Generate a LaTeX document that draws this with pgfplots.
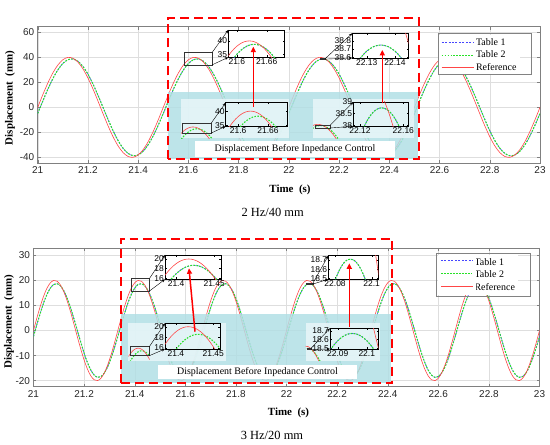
\documentclass[border=0pt]{standalone}
\usepackage{fontspec}
\setmainfont{Liberation Serif}
\setsansfont{Liberation Sans}
\usepackage{pgfplots}
\usepackage{pgfplotstable}
\pgfplotsset{compat=1.18}
\usetikzlibrary{arrows.meta}

\definecolor{refred}{RGB}{255,70,70}
\definecolor{tabgreen}{RGB}{40,225,40}
\definecolor{tabblue}{RGB}{70,70,255}
\definecolor{cyanbg}{RGB}{178,223,229}
\definecolor{panelbg}{RGB}{232,246,249}
\definecolor{legedge}{RGB}{130,130,130}

\pgfplotstableread{
t ref tab
21.00 0 -4.857
21.02 9.948 4.857
21.04 19.270 14.265
21.06 27.382 22.777
21.08 33.773 29.857
21.10 38.042 35.062
21.12 39.921 38.064
21.14 39.292 38.674
21.16 36.193 36.854
21.18 30.820 32.718
21.20 23.511 26.526
21.22 14.725 18.668
21.24 5.013 9.637
21.26 -5.013 0
21.28 -14.725 -9.637
21.30 -23.511 -18.668
21.32 -30.820 -26.526
21.34 -36.193 -32.718
21.36 -39.292 -36.854
21.38 -39.921 -38.674
21.40 -38.042 -38.064
21.42 -33.773 -35.062
21.44 -27.382 -29.857
21.46 -19.270 -22.777
21.48 -9.948 -14.265
21.50 0 -4.857
21.52 9.948 4.857
21.54 19.270 14.265
21.56 27.382 22.777
21.58 33.773 29.857
21.60 38.042 35.062
21.62 39.921 38.064
21.64 39.292 38.674
21.66 36.193 36.854
21.68 30.820 32.718
21.70 23.511 26.526
21.72 14.725 18.668
21.74 5.013 9.637
21.76 -5.013 0
21.78 -14.725 -9.637
21.80 -23.511 -18.668
21.82 -30.820 -26.526
21.84 -36.193 -32.718
21.86 -39.292 -36.854
21.88 -39.921 -38.674
21.90 -38.042 -38.064
21.92 -33.773 -35.062
21.94 -27.382 -29.857
21.96 -19.270 -22.777
21.98 -9.948 -14.265
22.00 0 -4.857
22.02 9.948 4.857
22.04 19.270 14.265
22.06 27.382 22.777
22.08 33.773 29.857
22.10 38.042 35.062
22.12 39.921 38.064
22.14 39.292 38.674
22.16 36.193 36.854
22.18 30.820 32.718
22.20 23.511 26.526
22.22 14.725 18.668
22.24 5.013 9.637
22.26 -5.013 0
22.28 -14.725 -9.637
22.30 -23.511 -18.668
22.32 -30.820 -26.526
22.34 -36.193 -32.718
22.36 -39.292 -36.854
22.38 -39.921 -38.674
22.40 -38.042 -38.064
22.42 -33.773 -35.062
22.44 -27.382 -29.857
22.46 -19.270 -22.777
22.48 -9.948 -14.265
22.50 0 -4.857
22.52 9.948 4.857
22.54 19.270 14.265
22.56 27.382 22.777
22.58 33.773 29.857
22.60 38.042 35.062
22.62 39.921 38.064
22.64 39.292 38.674
22.66 36.193 36.854
22.68 30.820 32.718
22.70 23.511 26.526
22.72 14.725 18.668
22.74 5.013 9.637
22.76 -5.013 0
22.78 -14.725 -9.637
22.80 -23.511 -18.668
22.82 -30.820 -26.526
22.84 -36.193 -32.718
22.86 -39.292 -36.854
22.88 -39.921 -38.674
22.90 -38.042 -38.064
22.92 -33.773 -35.062
22.94 -27.382 -29.857
22.96 -19.270 -22.777
22.98 -9.948 -14.265
23.00 0 -4.857
}\topmain

\pgfplotstableread{
t ref tab
21.0000 0 -2.344
21.0133 4.974 2.344
21.0267 9.635 6.884
21.0400 13.691 10.992
21.0533 16.887 14.409
21.0667 19.021 16.920
21.0800 19.961 18.369
21.0933 19.646 18.663
21.1067 18.097 17.785
21.1200 15.410 15.789
21.1333 11.756 12.801
21.1467 7.362 9.009
21.1600 2.507 4.651
21.1733 -2.507 0
21.1867 -7.362 -4.651
21.2000 -11.756 -9.009
21.2133 -15.410 -12.801
21.2267 -18.097 -15.789
21.2400 -19.646 -17.785
21.2533 -19.961 -18.663
21.2667 -19.021 -18.369
21.2800 -16.887 -16.920
21.2933 -13.691 -14.409
21.3067 -9.635 -10.992
21.3200 -4.974 -6.884
21.3333 0 -2.344
21.3467 4.974 2.344
21.3600 9.635 6.884
21.3733 13.691 10.992
21.3867 16.887 14.409
21.4000 19.021 16.920
21.4133 19.961 18.369
21.4267 19.646 18.663
21.4400 18.097 17.785
21.4533 15.410 15.789
21.4667 11.756 12.801
21.4800 7.362 9.009
21.4933 2.507 4.651
21.5067 -2.507 0
21.5200 -7.362 -4.651
21.5333 -11.756 -9.009
21.5467 -15.410 -12.801
21.5600 -18.097 -15.789
21.5733 -19.646 -17.785
21.5867 -19.961 -18.663
21.6000 -19.021 -18.369
21.6133 -16.887 -16.920
21.6267 -13.691 -14.409
21.6400 -9.635 -10.992
21.6533 -4.974 -6.884
21.6667 0 -2.344
21.6800 4.974 2.344
21.6933 9.635 6.884
21.7067 13.691 10.992
21.7200 16.887 14.409
21.7333 19.021 16.920
21.7467 19.961 18.369
21.7600 19.646 18.663
21.7733 18.097 17.785
21.7867 15.410 15.789
21.8000 11.756 12.801
21.8133 7.362 9.009
21.8267 2.507 4.651
21.8400 -2.507 0
21.8533 -7.362 -4.651
21.8667 -11.756 -9.009
21.8800 -15.410 -12.801
21.8933 -18.097 -15.789
21.9067 -19.646 -17.785
21.9200 -19.961 -18.663
21.9333 -19.021 -18.369
21.9467 -16.887 -16.920
21.9600 -13.691 -14.409
21.9733 -9.635 -10.992
21.9867 -4.974 -6.884
22.0000 0 -2.344
22.0133 4.974 2.344
22.0267 9.635 6.884
22.0400 13.691 10.992
22.0533 16.887 14.409
22.0667 19.021 16.920
22.0800 19.961 18.369
22.0933 19.646 18.663
22.1067 18.097 17.785
22.1200 15.410 15.789
22.1333 11.756 12.801
22.1467 7.362 9.009
22.1600 2.507 4.651
22.1733 -2.507 0
22.1867 -7.362 -4.651
22.2000 -11.756 -9.009
22.2133 -15.410 -12.801
22.2267 -18.097 -15.789
22.2400 -19.646 -17.785
22.2533 -19.961 -18.663
22.2667 -19.021 -18.369
22.2800 -16.887 -16.920
22.2933 -13.691 -14.409
22.3067 -9.635 -10.992
22.3200 -4.974 -6.884
22.3333 0 -2.344
22.3467 4.974 2.344
22.3600 9.635 6.884
22.3733 13.691 10.992
22.3867 16.887 14.409
22.4000 19.021 16.920
22.4133 19.961 18.369
22.4267 19.646 18.663
22.4400 18.097 17.785
22.4533 15.410 15.789
22.4667 11.756 12.801
22.4800 7.362 9.009
22.4933 2.507 4.651
22.5067 -2.507 0
22.5200 -7.362 -4.651
22.5333 -11.756 -9.009
22.5467 -15.410 -12.801
22.5600 -18.097 -15.789
22.5733 -19.646 -17.785
22.5867 -19.961 -18.663
22.6000 -19.021 -18.369
22.6133 -16.887 -16.920
22.6267 -13.691 -14.409
22.6400 -9.635 -10.992
22.6533 -4.974 -6.884
22.6667 0 -2.344
22.6800 4.974 2.344
22.6933 9.635 6.884
22.7067 13.691 10.992
22.7200 16.887 14.409
22.7333 19.021 16.920
22.7467 19.961 18.369
22.7600 19.646 18.663
22.7733 18.097 17.785
22.7867 15.410 15.789
22.8000 11.756 12.801
22.8133 7.362 9.009
22.8267 2.507 4.651
22.8400 -2.507 0
22.8533 -7.362 -4.651
22.8667 -11.756 -9.009
22.8800 -15.410 -12.801
22.8933 -18.097 -15.789
22.9067 -19.646 -17.785
22.9200 -19.961 -18.663
22.9333 -19.021 -18.369
22.9467 -16.887 -16.920
22.9600 -13.691 -14.409
22.9733 -9.635 -10.992
22.9867 -4.974 -6.884
23.0000 0 -2.344
}\botmain

\pgfplotstableread{
t ref gA gB
21.560 27.382 22.777 20.469
21.565 29.159 24.700 22.454
21.570 30.820 26.526 24.349
21.575 32.361 28.248 26.150
21.580 33.773 29.857 27.847
21.585 35.053 31.350 29.433
21.590 36.193 32.718 30.905
21.595 37.191 33.957 32.253
21.600 38.042 35.062 33.475
21.605 38.743 36.029 34.565
21.610 39.292 36.854 35.518
21.615 39.685 37.532 36.330
21.620 39.921 38.064 37.000
21.625 40.000 38.444 37.523
21.630 39.921 38.674 37.899
21.635 39.685 38.750 38.125
21.640 39.292 38.674 38.200
21.645 38.743 38.444 38.125
21.650 38.042 38.064 37.899
21.655 37.191 37.532 37.523
21.660 36.193 36.854 37.000
21.665 35.053 36.029 36.330
21.670 33.773 35.062 35.518
21.675 32.361 33.957 34.565
21.680 30.820 32.718 33.475
21.685 29.159 31.350 32.253
21.690 27.382 29.857 30.905
21.695 25.497 28.248 29.433
21.700 23.511 26.526 27.847
21.705 21.433 24.700 26.150
21.710 19.270 22.777 24.349
}\topL

\pgfplotstableread{
t ref gA gB
22.1100 39.292 36.854 36.029
22.1125 39.508 37.211 36.459
22.1150 39.685 37.532 36.854
22.1175 39.822 37.817 37.211
22.1200 39.921 38.064 37.532
22.1225 39.980 38.273 37.817
22.1250 40.000 38.444 38.064
22.1275 39.980 38.578 38.273
22.1300 39.921 38.674 38.444
22.1325 39.822 38.731 38.578
22.1350 39.685 38.750 38.674
22.1375 39.508 38.731 38.731
22.1400 39.292 38.674 38.750
22.1425 39.037 38.578 38.731
22.1450 38.743 38.444 38.674
22.1475 38.412 38.273 38.578
22.1500 38.042 38.064 38.444
22.1525 37.635 37.817 38.273
22.1550 37.191 37.532 38.064
22.1575 36.710 37.211 37.817
22.1600 36.193 36.854 37.532
22.1625 35.640 36.459 37.211
22.1650 35.053 36.029 36.854
}\topR

\pgfplotstableread{
t ref gA gB
21.38000 15.410 12.801 10.904
21.38333 16.180 13.632 11.824
21.38667 16.887 14.409 12.698
21.39000 17.526 15.129 13.522
21.39333 18.097 15.789 14.293
21.39667 18.596 16.387 15.007
21.40000 19.021 16.920 15.662
21.40333 19.372 17.387 16.256
21.40667 19.646 17.785 16.785
21.41000 19.842 18.112 17.247
21.41333 19.961 18.369 17.642
21.41667 20.000 18.552 17.967
21.42000 19.961 18.663 18.221
21.42333 19.842 18.700 18.404
21.42667 19.646 18.663 18.513
21.43000 19.372 18.552 18.550
21.43333 19.021 18.369 18.513
21.43667 18.596 18.112 18.404
21.44000 18.097 17.785 18.221
21.44333 17.526 17.387 17.967
21.44667 16.887 16.920 17.642
21.45000 16.180 16.387 17.247
21.45333 15.410 15.789 16.785
21.45667 14.579 15.129 16.256
21.46000 13.691 14.409 15.662
}\botL

\pgfplotstableread{
t ref gA gB
22.07000 19.372 17.604 16.635
22.07167 19.518 17.794 16.893
22.07333 19.646 17.967 17.134
22.07500 19.754 18.122 17.359
22.07667 19.842 18.259 17.566
22.07833 19.911 18.379 17.756
22.08000 19.961 18.480 17.929
22.08167 19.990 18.562 18.083
22.08333 20.000 18.627 18.220
22.08500 19.990 18.673 18.339
22.08667 19.961 18.701 18.440
22.08833 19.911 18.710 18.523
22.09000 19.842 18.701 18.587
22.09167 19.754 18.673 18.633
22.09333 19.646 18.627 18.661
22.09500 19.518 18.562 18.670
22.09667 19.372 18.480 18.661
22.09833 19.206 18.379 18.633
22.10000 19.021 18.259 18.587
22.10167 18.818 18.122 18.523
22.10333 18.596 17.967 18.440
22.10500 18.355 17.794 18.339
22.10667 18.097 17.604 18.220
22.10833 17.820 17.396 18.083
22.11000 17.526 17.171 17.929
}\botR

\tikzset{
  refline/.style={color=refred, draw=refred, line width=0.6pt},
  t2line/.style={color=tabgreen, draw=tabgreen, line width=1.1pt, dash pattern=on 1.6pt off 1.4pt},
  t1line/.style={color=tabblue, draw=tabblue, line width=0.6pt, dash pattern=on 2pt off 1.5pt},
  conn/.style={draw=black, line width=0.4pt, -{Stealth[length=3.5pt,width=2.6pt]}},
  redarrow/.style={draw=red, fill=red, line width=1.5pt, -{Triangle[length=5.5pt,width=5pt]}},
  dashrect/.style={draw=red, line width=2.3pt, dash pattern=on 9pt off 5pt},
  smallrect/.style={draw=black!80, line width=0.4pt},
  legbox/.style={draw=legedge, line width=0.6pt},
}

\pgfplotsset{
  mainax/.style={scale only axis, anchor=south west, xmin=21, xmax=23,
    xtick={21,21.2,21.4,21.6,21.8,22,22.2,22.4,22.6,22.8,23},
    xticklabels={21,21.2,21.4,21.6,21.8,22,22.2,22.4,22.6,22.8,23},
    grid=major, grid style={black!13, line width=0.4pt},
    axis line style={black!50, line width=0.5pt},
    tick style={black!50, line width=0.4pt},
    tick align=inside, major tick length=3pt,
    tick label style={font=\sffamily\fontsize{10}{12}\selectfont, text=black!85},
    legend cell align=left,
    legend style={anchor=north west, draw=none, fill=white,
      font=\fontsize{10}{11}\selectfont, inner sep=1.5pt, row sep=0pt},
    legend image code/.code={\draw[##1] (0bp,0bp) -- (32bp,0bp);},
  },
  insetax/.style={scale only axis, anchor=south west,
    axis line style={black, line width=0.45pt},
    tick style={black, line width=0.35pt}, major tick length=1.8pt, tick align=inside,
    tick label style={font=\sffamily\fontsize{8.5}{9}\selectfont, inner sep=1pt}},
  miniax/.style={scale only axis, anchor=south west, hide axis},
}

\begin{document}
\begin{tikzpicture}[x=1bp,y=1bp]
\useasboundingbox (0,0) rectangle (550,445);

% ================= MAIN AXES =================
\begin{axis}[mainax, at={(37.7bp,282bp)}, width=502.3bp, height=136.3bp,
  ymin=-44.5, ymax=64.5, ytick={-40,-20,0,20,40,60}, yticklabels={-40,-20,0,20,40,60},
  legend style={at={(0.7995,0.94)}}]
\addplot[t1line, smooth] table[x=t,y=tab]{\topmain}; \addlegendentry{Table 1}
\addplot[t2line, smooth] table[x=t,y=tab]{\topmain}; \addlegendentry{Table 2}
\addplot[refline, smooth] table[x=t,y=ref]{\topmain}; \addlegendentry{Reference}
\end{axis}

\begin{axis}[mainax, at={(33.5bp,58.3bp)}, width=506bp, height=138.7bp,
  ymin=-22.4, ymax=32.9, ytick={-20,-10,0,10,20,30}, yticklabels={-20,-10,0,10,20,30},
  legend style={at={(0.799,0.95)}}]
\addplot[t1line, smooth] table[x=t,y=tab]{\botmain}; \addlegendentry{Table 1}
\addplot[t2line, smooth] table[x=t,y=tab]{\botmain}; \addlegendentry{Table 2}
\addplot[refline, smooth] table[x=t,y=ref]{\botmain}; \addlegendentry{Reference}
\end{axis}
% recolour the sample lines of the lower legend
\fill[white] (438.5,153) rectangle (475.5,189.5);
\draw[t1line] (441,184.5) -- (473,184.5);
\draw[t2line] (441,171.8) -- (473,171.8);
\draw[refline] (441,159) -- (473,159);

% ================= TOP OVERLAYS =================
\fill[cyanbg, fill opacity=0.85] (168,286) rectangle (418,353.3);
\fill[panelbg, fill opacity=0.85] (181,306.5) rectangle (289,346);
\fill[panelbg, fill opacity=0.85] (313,306.5) rectangle (414,346);
\node[fill=white, inner sep=0pt, minimum width=200bp, minimum height=15.7bp,
  font=\fontsize{10}{12}\selectfont] at (295,296.2) {Displacement Before Inpedance Control};

\begin{axis}[miniax, at={(181bp,306.5bp)}, width=31bp, height=17.5bp,
  xmin=21.579, xmax=21.698, ymin=28.5, ymax=46]
\addplot[t2line, smooth] table[x=t,y=gB]{\topL};
\addplot[refline, smooth] table[x=t,y=ref]{\topL};
\end{axis}
\draw[smallrect] (182,312) rectangle (211.3,322);
\draw[conn] (211.3,322) -- (225.7,342.3);
\draw[conn] (211.3,312) -- (225.7,318.7);
\begin{axis}[insetax, at={(225.7bp,318.7bp)}, width=61.6bp, height=23.6bp,
  xmin=21.575, xmax=21.699, ymin=34.6, ymax=43,
  xtick={21.6,21.66}, xticklabels={21.6,21.66}, ytick={35,40}, yticklabels={35,40}]
\addplot[t2line, smooth] table[x=t,y=gB]{\topL};
\addplot[refline, smooth] table[x=t,y=ref]{\topL};
\end{axis}

\begin{axis}[miniax, at={(313bp,306.5bp)}, width=25bp, height=17.5bp,
  xmin=22.1062, xmax=22.2017, ymin=25.8, ymax=43.3]
\addplot[t2line, smooth] table[x=t,y=tab]{\topmain};
\addplot[refline, smooth] table[x=t,y=ref]{\topmain};
\end{axis}
\draw[smallrect] (315,317) rectangle (330,319.7);
\draw[conn] (330,319.7) -- (353.3,343);
\draw[conn] (330,317) -- (353.3,318.7);
\begin{axis}[insetax, at={(353.3bp,318.7bp)}, width=55bp, height=24.3bp,
  xmin=22.1138, xmax=22.1646, ymin=37.96, ymax=39.0,
  xtick={22.12,22.16}, xticklabels={22.12,22.16}, ytick={38,38.5,39}, yticklabels={38,38.5,39}]
\addplot[t1line, smooth] table[x=t,y=gB]{\topR};
\addplot[t2line, smooth] table[x=t,y=gB]{\topR};
\addplot[refline, smooth] table[x=t,y=ref]{\topR};
\end{axis}

\draw[smallrect] (184.1,380.2) rectangle (212.25,392.7);
\draw[conn] (212.25,392.7) -- (228.3,415);
\draw[conn] (212.25,380.2) -- (228.3,387.7);
\begin{axis}[insetax, at={(228.3bp,387.7bp)}, width=56bp, height=27.3bp,
  axis background/.style={fill=white},
  xmin=21.583, xmax=21.695, ymin=34, ymax=44,
  xtick={21.6,21.66}, xticklabels={21.6,21.66}, ytick={35,40}, yticklabels={35,40}]
\addplot[t1line, smooth] table[x=t,y=gA]{\topL};
\addplot[t2line, smooth] table[x=t,y=gA]{\topL};
\addplot[refline, smooth] table[x=t,y=ref]{\topL};
\end{axis}

\draw[smallrect] (320.2,385.9) rectangle (325.2,386.3);
\draw[conn] (325.2,386.3) -- (352.3,411.7);
\draw[conn] (325.2,385.9) -- (352.3,387);
\begin{axis}[insetax, at={(352.3bp,387bp)}, width=56bp, height=24.7bp,
  axis background/.style={fill=white},
  xmin=22.1249, xmax=22.1447, ymin=38.59, ymax=38.894,
  xtick={22.13,22.14}, xticklabels={22.13,22.14}, ytick={38.6,38.7,38.8}, yticklabels={38.6,38.7,38.8}]
\addplot[t1line, smooth] table[x=t,y=gA]{\topR};
\addplot[t2line, smooth] table[x=t,y=gA]{\topR};
\addplot[refline, smooth] table[x=t,y=ref]{\topR};
\end{axis}

\draw[redarrow] (253.3,338.3) -- (253.3,398.3);
\draw[redarrow] (382.3,341.7) -- (382.3,395);
\draw[dashrect] (167.7,286) rectangle (419,426.7);

\node[rotate=90, font=\bfseries\fontsize{11}{13}\selectfont] at (10,347) {Displacement\ \ (mm)};
\node[font=\bfseries\fontsize{11}{13}\selectfont] at (290,255) {Time\ \ (s)};
\node[font=\fontsize{12.5}{14}\selectfont] at (272.7,232.7) {2 Hz/40 mm};

% ================= BOTTOM OVERLAYS =================
\fill[cyanbg, fill opacity=0.85] (120.7,61.7) rectangle (391,130.7);
\fill[panelbg, fill opacity=0.85] (127.7,84) rectangle (225.7,122.3);
\fill[panelbg, fill opacity=0.85] (305.7,84) rectangle (380,122.3);
\node[fill=white, inner sep=0pt, minimum width=198.4bp, minimum height=14bp,
  font=\fontsize{10}{12}\selectfont] at (257.5,73) {Displacement Before Inpedance Control};

\begin{axis}[miniax, at={(128bp,84bp)}, width=24bp, height=18bp,
  xmin=21.3779, xmax=21.4693, ymin=12.84, ymax=22.9]
\addplot[t2line, smooth] table[x=t,y=gB]{\botL};
\addplot[refline, smooth] table[x=t,y=ref]{\botL};
\end{axis}
\draw[smallrect] (130,89.3) rectangle (149.3,98.3);
\draw[conn] (149.3,98.3) -- (165,121.7);
\draw[conn] (149.3,89.3) -- (165,96);
\begin{axis}[insetax, at={(165bp,96bp)}, width=55bp, height=25.7bp,
  xmin=21.3855, xmax=21.459, ymin=15.75, ymax=20.65,
  xtick={21.4,21.45}, xticklabels={21.4,21.45}, ytick={16,18,20}, yticklabels={16,18,20}]
\addplot[t2line, smooth] table[x=t,y=gB]{\botL};
\addplot[refline, smooth] table[x=t,y=ref]{\botL};
\end{axis}

\begin{axis}[miniax, at={(305.7bp,84bp)}, width=19.3bp, height=18bp,
  xmin=22.0835, xmax=22.1571, ymin=11.63, ymax=21.69]
\addplot[t2line, smooth] table[x=t,y=tab]{\botmain};
\addplot[refline, smooth] table[x=t,y=ref]{\botmain};
\end{axis}
\draw[smallrect] (306.7,95.5) rectangle (311,96.7);
\draw[conn] (311,96.7) -- (330,116.7);
\draw[conn] (311,95.5) -- (330,96);
\begin{axis}[insetax, at={(330bp,96bp)}, width=48.3bp, height=20.7bp,
  xmin=22.0873, xmax=22.104, ymin=18.49, ymax=18.73,
  xtick={22.09,22.1}, xticklabels={22.09,22.1}, ytick={18.5,18.6,18.7}, yticklabels={18.5,18.6,18.7}]
\addplot[t1line, smooth] table[x=t,y=gB]{\botR};
\addplot[t2line, smooth] table[x=t,y=gB]{\botR};
\addplot[refline, smooth] table[x=t,y=ref]{\botR};
\end{axis}

\draw[smallrect] (131,154.1) rectangle (149.6,166.7);
\draw[conn] (149.6,166.7) -- (165,190);
\draw[conn] (149.6,154.1) -- (165,165.7);
\begin{axis}[insetax, at={(165bp,165.7bp)}, width=56bp, height=24.3bp,
  axis background/.style={fill=white},
  xmin=21.3855, xmax=21.459, ymin=15.8, ymax=20.83,
  xtick={21.4,21.45}, xticklabels={21.4,21.45}, ytick={16,18,20}, yticklabels={16,18,20}]
\addplot[t1line, smooth] table[x=t,y=gA]{\botL};
\addplot[t2line, smooth] table[x=t,y=gA]{\botL};
\addplot[refline, smooth] table[x=t,y=ref]{\botL};
\end{axis}

\draw[smallrect] (305.8,160.9) rectangle (312.7,161.5);
\draw[conn] (312.7,161.5) -- (328.3,189.3);
\draw[conn] (312.7,160.9) -- (328.3,165.7);
\begin{axis}[insetax, at={(328.3bp,165.7bp)}, width=50bp, height=23.6bp,
  axis background/.style={fill=white},
  xmin=22.0763, xmax=22.1036, ymin=18.49, ymax=18.747,
  xtick={22.08,22.1}, xticklabels={22.08,22.1}, ytick={18.5,18.6,18.7}, yticklabels={18.5,18.6,18.7}]
\addplot[t1line, smooth] table[x=t,y=gA]{\botR};
\addplot[t2line, smooth] table[x=t,y=gA]{\botR};
\addplot[refline, smooth] table[x=t,y=ref]{\botR};
\end{axis}

\draw[redarrow] (195,113.3) -- (189,176.7);
\draw[redarrow] (349.3,118.3) -- (349.3,181.7);
\draw[dashrect] (120.7,61.7) rectangle (392.2,206.3);

\node[rotate=90, font=\bfseries\fontsize{11}{13}\selectfont] at (9,123.3) {Displacement\ \ (mm)};
\node[font=\bfseries\fontsize{11}{13}\selectfont] at (288.5,32.3) {Time\ \ (s)};
\node[font=\fontsize{12.5}{14}\selectfont] at (272,10) {3 Hz/20 mm};

% legend frames
\draw[legbox] (438.3,370.7) rectangle (531,411.7);
\draw[legbox] (436.7,149) rectangle (530,191.7);
\end{tikzpicture}
\end{document}
